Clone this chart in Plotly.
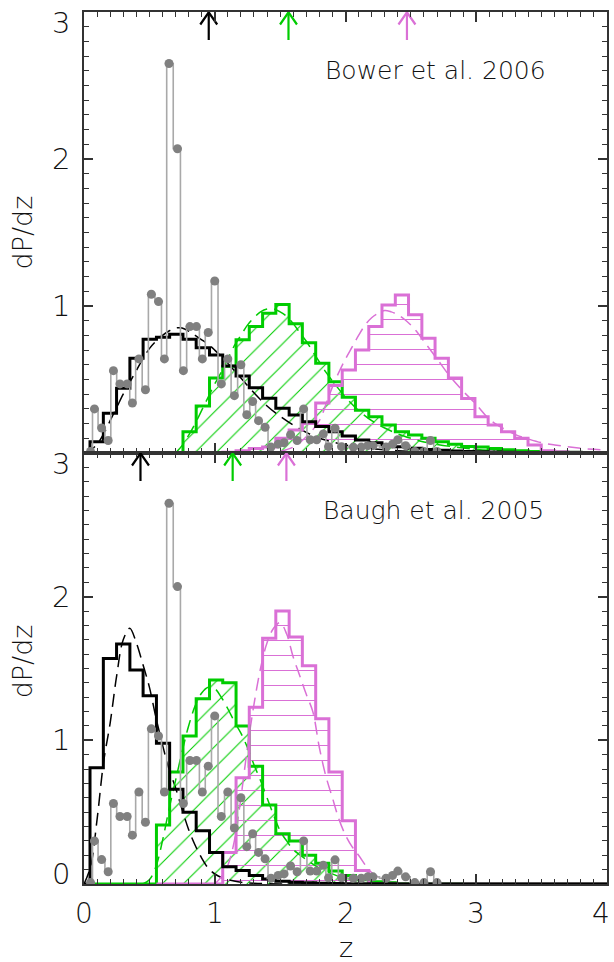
import plotly.graph_objects as go

# ---------------- data ----------------
bin_edges = [0.046, 0.148, 0.249, 0.351, 0.452, 0.554, 0.655, 0.757, 0.858, 0.960,
             1.061, 1.163, 1.264, 1.366, 1.467, 1.569, 1.670, 1.772, 1.873, 1.975,
             2.076, 2.178, 2.279, 2.381, 2.482, 2.584, 2.685, 2.787, 2.888, 2.990,
             3.091, 3.193, 3.294, 3.396, 3.497, 3.599, 3.700, 3.802, 3.903, 4.005]

# Bower et al. 2006 (top panel) histograms, one value per bin
bower_black = [0.077, 0.27, 0.44, 0.644, 0.773, 0.787, 0.807, 0.773, 0.716, 0.667,
               0.592, 0.524, 0.444, 0.372, 0.304, 0.259, 0.213, 0.18, 0.145, 0.116,
               0.088, 0.07, 0.054, 0.042, 0.032, 0.024, 0.018, 0.013, 0.01, 0.008,
               0.006, 0.005, 0.004, 0.003, 0.002, 0.002, 0.001, 0.001, 0.001]
bower_green = [0, 0, 0, 0, 0, 0, 0, 0.145, 0.32, 0.51,
               0.59, 0.77, 0.86, 0.95, 1.01, 0.88, 0.75, 0.61, 0.485, 0.38,
               0.29, 0.247, 0.19, 0.145, 0.122, 0.10, 0.077, 0.06, 0.045, 0.04,
               0.03, 0.022, 0.015, 0.01, 0.008, 0.006, 0.005, 0.004, 0.003]
bower_magenta = [0, 0, 0, 0, 0, 0, 0, 0, 0, 0,
                 0.005, 0.015, 0.03, 0.04, 0.10, 0.157, 0.20, 0.34, 0.46, 0.565,
                 0.70, 0.86, 1.007, 1.075, 0.94, 0.78, 0.644, 0.51, 0.37, 0.247,
                 0.19, 0.145, 0.10, 0.054, 0.015, 0.008, 0.005, 0.003, 0.002]

# Baugh et al. 2005 (bottom panel) histograms
baugh_black = [0.81, 1.57, 1.67, 1.49, 1.31, 0.98, 0.66, 0.50, 0.37, 0.22,
               0.12, 0.094, 0.06, 0.035, 0.02, 0.012, 0.008, 0.005, 0.003, 0.002,
               0.002, 0.001, 0.001, 0, 0, 0, 0, 0, 0, 0,
               0, 0, 0, 0, 0, 0, 0, 0, 0]
baugh_green = [0, 0, 0, 0, 0, 0.41, 0.78, 1.03, 1.29, 1.42,
               1.40, 1.10, 0.82, 0.55, 0.35, 0.30, 0.20, 0.145, 0.09, 0.06,
               0.03, 0.015, 0.008, 0.004, 0.002, 0.002, 0.001, 0.001, 0, 0,
               0, 0, 0, 0, 0, 0, 0, 0, 0]
baugh_magenta = [0, 0, 0, 0, 0, 0, 0, 0, 0, 0,
                 0.22, 0.74, 1.23, 1.71, 1.90, 1.72, 1.52, 1.15, 0.78, 0.44,
                 0.094, 0, 0, 0, 0, 0, 0, 0, 0, 0,
                 0, 0, 0, 0, 0, 0, 0, 0, 0]

# smooth (dashed) model curves
bower_black_dash_z = [0.0, 0.05, 0.1, 0.15, 0.2, 0.25, 0.3, 0.35, 0.4, 0.45, 0.5, 0.55, 0.6,
                      0.65, 0.7, 0.75, 0.8, 0.85, 0.9, 0.95, 1.0, 1.1, 1.2, 1.3, 1.4, 1.5,
                      1.6, 1.7, 1.8, 1.9, 2.0, 2.2, 2.4, 2.6, 2.8, 3.0, 3.5, 4.0]
bower_black_dash_p = [0.0, 0.02, 0.06, 0.13, 0.22, 0.31, 0.40, 0.48, 0.56, 0.64, 0.71, 0.76, 0.80,
                      0.83, 0.85, 0.85, 0.83, 0.80, 0.77, 0.74, 0.70, 0.61, 0.51, 0.41, 0.32, 0.25,
                      0.19, 0.14, 0.10, 0.075, 0.055, 0.03, 0.016, 0.008, 0.004, 0.002, 0.0, 0.0]
bower_green_dash_z = [0.7, 0.75, 0.8, 0.85, 0.9, 0.95, 1.0, 1.05, 1.1, 1.15, 1.2, 1.25, 1.3,
                      1.35, 1.4, 1.45, 1.5, 1.55, 1.6, 1.65, 1.7, 1.75, 1.8, 1.85, 1.9, 2.0,
                      2.1, 2.2, 2.3, 2.4, 2.5, 2.6, 2.8, 3.0, 3.2, 3.5, 4.0]
bower_green_dash_p = [0.0, 0.05, 0.12, 0.2, 0.29, 0.38, 0.47, 0.55, 0.64, 0.73, 0.80, 0.87, 0.92,
                      0.96, 0.98, 0.98, 0.96, 0.93, 0.88, 0.82, 0.76, 0.69, 0.62, 0.55, 0.49, 0.38,
                      0.29, 0.22, 0.17, 0.13, 0.10, 0.075, 0.045, 0.025, 0.015, 0.005, 0.0]
bower_magenta_dash_z = [1.5, 1.6, 1.7, 1.8, 1.85, 1.9, 1.95, 2.0, 2.05, 2.1, 2.15, 2.2, 2.25,
                        2.3, 2.35, 2.4, 2.45, 2.5, 2.55, 2.6, 2.7, 2.8, 2.9, 3.0, 3.1, 3.2,
                        3.3, 3.4, 3.5, 3.6, 3.7, 3.8, 3.9, 4.0]
bower_magenta_dash_p = [0.01, 0.04, 0.11, 0.22, 0.33, 0.45, 0.55, 0.64, 0.72, 0.80, 0.87, 0.92, 0.95,
                        0.97, 0.96, 0.94, 0.91, 0.87, 0.82, 0.76, 0.64, 0.52, 0.42, 0.33, 0.23, 0.17,
                        0.125, 0.095, 0.07, 0.055, 0.042, 0.032, 0.025, 0.02]

baugh_black_dash_z = [0.0, 0.05, 0.1, 0.15, 0.2, 0.25, 0.3, 0.35, 0.4, 0.45, 0.5, 0.55, 0.6,
                      0.65, 0.7, 0.75, 0.8, 0.85, 0.9, 0.95, 1.0, 1.05, 1.1, 1.2, 1.3, 1.5, 2.0, 4.0]
baugh_black_dash_p = [0.0, 0.12, 0.45, 0.85, 1.12, 1.45, 1.70, 1.78, 1.68, 1.53, 1.37, 1.16, 0.97,
                      0.80, 0.67, 0.52, 0.38, 0.27, 0.18, 0.11, 0.07, 0.045, 0.03, 0.012, 0.005, 0.0, 0.0, 0.0]
baugh_green_dash_z = [0.45, 0.5, 0.55, 0.6, 0.65, 0.7, 0.75, 0.8, 0.85, 0.9, 0.95, 1.0, 1.05,
                      1.1, 1.15, 1.2, 1.25, 1.3, 1.35, 1.4, 1.45, 1.5, 1.55, 1.6, 1.7, 1.8,
                      1.9, 2.0, 2.2, 2.4, 3.0]
baugh_green_dash_p = [0.0, 0.03, 0.12, 0.3, 0.52, 0.72, 0.92, 1.10, 1.24, 1.33, 1.37, 1.36, 1.30,
                      1.22, 1.13, 1.05, 0.95, 0.83, 0.72, 0.60, 0.48, 0.37, 0.30, 0.24, 0.17, 0.11,
                      0.07, 0.04, 0.015, 0.005, 0.0]
baugh_magenta_dash_z = [1.0, 1.05, 1.1, 1.15, 1.2, 1.25, 1.3, 1.35, 1.4, 1.45, 1.5, 1.55, 1.6,
                        1.65, 1.7, 1.75, 1.8, 1.85, 1.9, 1.95, 2.0, 2.05, 2.1, 2.2, 2.3, 2.4, 2.6]
baugh_magenta_dash_p = [0.0, 0.05, 0.13, 0.3, 0.6, 0.95, 1.25, 1.5, 1.68, 1.78, 1.82, 1.74, 1.58,
                        1.45, 1.32, 1.2, 0.95, 0.75, 0.6, 0.45, 0.34, 0.26, 0.2, 0.08, 0.03, 0.01, 0.0]

# observed distribution (grey points), same in both panels
obs_z = [0.05, 0.08, 0.135, 0.185, 0.225, 0.275, 0.33, 0.37, 0.42, 0.47,
         0.515, 0.57, 0.615, 0.65, 0.715, 0.76, 0.81, 0.86, 0.905, 0.95,
         1.0, 1.05, 1.10, 1.15, 1.20, 1.245, 1.29, 1.335, 1.385, 1.43,
         1.485, 1.53, 1.58, 1.63, 1.68, 1.73, 1.78, 1.83, 1.87, 1.92,
         1.97, 2.06, 2.12, 2.17, 2.21, 2.31, 2.36, 2.40, 2.46, 2.53,
         2.60, 2.65, 2.70]
obs_p = [0.01, 0.30, 0.17, 0.085, 0.56, 0.47, 0.47, 0.34, 0.64, 0.43,
         1.08, 1.03, 0.64, 2.65, 2.07, 0.56, 0.86, 0.86, 0.64, 0.82,
         1.17, 0.47, 0.64, 0.39, 0.60, 0.26, 0.35, 0.22, 0.175, 0.04,
         0.06, 0.07, 0.125, 0.085, 0.30, 0.09, 0.09, 0.13, 0.043, 0.168,
         0.043, 0.04, 0.04, 0.05, 0.05, 0.04, 0.06, 0.09, 0.05, 0.01,
         0.01, 0.085, 0.01]

# median-redshift arrows
bower_arrows_z = [0.954, 1.564, 2.47]
baugh_arrows_z = [0.432, 1.137, 1.548]

z_tick_vals = [0, 1, 2, 3, 4]
p_tick_top = [1, 2, 3]
p_tick_bottom = [0, 1, 2, 3]

# ---------------- style ----------------
BLACK = '#000000'
GREEN = '#00cc00'
MAG = '#da70d6'
GRAY_LINE = '#a9a9a9'
GRAY_PT = '#808080'
CLEAR = 'rgba(0,0,0,0)'
FONT = dict(family='DejaVu Sans, sans-serif', color='#111111', weight=200)


def step_xy(vals, start):
    xs, ys = [start], [0]
    for k, v in enumerate(vals):
        if bin_edges[k] >= start - 1e-9:
            xs.append(bin_edges[k])
            ys.append(v)
    xs.append(bin_edges[len(vals)])
    ys.append(vals[-1])
    return xs, ys


fig = go.Figure()

panels = [
    dict(xa='x', ya='y', black=bower_black, green=bower_green, mag=bower_magenta,
         starts=(0.0, 0.554, 1.061),
         bd=(bower_black_dash_z, bower_black_dash_p),
         gd=(bower_green_dash_z, bower_green_dash_p),
         md=(bower_magenta_dash_z, bower_magenta_dash_p),
         arrows=bower_arrows_z, ppu=147.0),
    dict(xa='x2', ya='y2', black=baugh_black, green=baugh_green, mag=baugh_magenta,
         starts=(0.0, 0.046, 0.554),
         bd=(baugh_black_dash_z, baugh_black_dash_p),
         gd=(baugh_green_dash_z, baugh_green_dash_p),
         md=(baugh_magenta_dash_z, baugh_magenta_dash_p),
         arrows=baugh_arrows_z, ppu=143.7),
]

for P in panels:
    ax = dict(xaxis=P['xa'], yaxis=P['ya'])
    gx, gy = step_xy(P['green'], P['starts'][1])
    mx, my = step_xy(P['mag'], P['starts'][2])
    bx, by = step_xy(P['black'], P['starts'][0])
    # hatched fills
    fig.add_trace(go.Scatter(x=gx, y=gy, mode='lines', line=dict(width=0, shape='hv'),
                             fill='tozeroy', fillcolor=CLEAR,
                             fillpattern=dict(shape='/', fgcolor=GREEN, bgcolor=CLEAR,
                                              fgopacity=1, size=15, solidity=0.07),
                             hoverinfo='skip', showlegend=False, **ax))
    fig.add_trace(go.Scatter(x=mx, y=my, mode='lines', line=dict(width=0, shape='hv'),
                             fill='tozeroy', fillcolor=CLEAR,
                             fillpattern=dict(shape='-', fgcolor=MAG, bgcolor=CLEAR,
                                              fgopacity=1, size=15, solidity=0.07),
                             hoverinfo='skip', showlegend=False, **ax))
    # dashed model curves
    for (dz, dp), col in ((P['bd'], BLACK), (P['gd'], GREEN), (P['md'], MAG)):
        fig.add_trace(go.Scatter(x=dz, y=dp, mode='lines',
                                 line=dict(color=col, width=1.5, dash='13px,7px', shape='spline'),
                                 showlegend=False, **ax))
    # histogram outlines
    for (xs, ys), col in (((gx, gy), GREEN), ((mx, my), MAG), ((bx, by), BLACK)):
        fig.add_trace(go.Scatter(x=xs, y=ys, mode='lines',
                                 line=dict(color=col, width=3, shape='hv'),
                                 showlegend=False, **ax))
    # observed points
    fig.add_trace(go.Scatter(x=obs_z, y=obs_p, mode='lines',
                             line=dict(color=GRAY_LINE, width=1.6, shape='hvh'),
                             showlegend=False, **ax))
    fig.add_trace(go.Scatter(x=obs_z, y=obs_p, mode='markers',
                             marker=dict(color=GRAY_PT, size=9, line=dict(width=0)),
                             showlegend=False, **ax))
    # arrows
    dx = 8.5 / 131.25
    L = 28.0 / P['ppu']
    h = 12.5 / P['ppu']
    for z, col in zip(P['arrows'], (BLACK, GREEN, MAG)):
        fig.add_trace(go.Scatter(x=[z, z, None, z - dx, z, z + dx],
                                 y=[3 - L, 2.998, None, 3 - h, 2.998, 3 - h],
                                 mode='lines', line=dict(color=col, width=2.2),
                                 showlegend=False, **ax))

SPLIT = 431.0 / 872.0
axis_common = dict(range=[0, 4], showgrid=False, zeroline=False, showline=True,
                   linecolor='#333333', linewidth=2, mirror='ticks', ticks='inside',
                   ticklen=10, tickwidth=1.5, tickcolor='#333333', dtick=1, tick0=0,
                   showticklabels=False,
                   minor=dict(dtick=0.1, tick0=0, ticks='inside', ticklen=5,
                              tickwidth=1.2, tickcolor='#333333', showgrid=False))
yaxis_common = dict(range=[0, 3], showgrid=False, zeroline=False, showline=True,
                    linecolor='#333333', linewidth=2, mirror='ticks', ticks='inside',
                    ticklen=9, tickwidth=1.5, tickcolor='#333333', dtick=1, tick0=0,
                    showticklabels=False,
                    minor=dict(dtick=0.1, tick0=0, ticks='inside', ticklen=5,
                               tickwidth=1.2, tickcolor='#333333', showgrid=False))

fig.update_layout(
    width=614, height=962,
    margin=dict(l=84, r=5, t=12, b=78),
    paper_bgcolor='white', plot_bgcolor='white',
    xaxis=dict(axis_common, anchor='y', domain=[0, 1]),
    yaxis=dict(yaxis_common, anchor='x', domain=[SPLIT, 1]),
    xaxis2=dict(axis_common, anchor='y2', domain=[0, 1], matches='x'),
    yaxis2=dict(yaxis_common, anchor='x2', domain=[0, SPLIT]),
    showlegend=False,
)

ann = []
# y tick labels
for v in p_tick_top:
    shift = -11 if v == 3 else 0
    ann.append(dict(x=0, xref='paper', y=v, yref='y', text=str(v), showarrow=False,
                    xanchor='right', yanchor='middle', xshift=-12, yshift=shift,
                    font=dict(FONT, size=29)))
for v in p_tick_bottom:
    shift = -11 if v == 3 else (10 if v == 0 else 0)
    ann.append(dict(x=0, xref='paper', y=v, yref='y2', text=str(v), showarrow=False,
                    xanchor='right', yanchor='middle', xshift=-12, yshift=shift,
                    font=dict(FONT, size=29)))
# x tick labels
for v in z_tick_vals:
    ann.append(dict(x=v, xref='x2', y=0, yref='paper', text=str(v), showarrow=False,
                    xanchor='center', yanchor='middle', yshift=-29,
                    xshift=(-6 if v == 4 else 0),
                    font=dict(FONT, size=28)))
# axis titles
ann.append(dict(x=0.5, xref='paper', y=0, yref='paper', text='z', showarrow=False,
                xanchor='center', yanchor='middle', yshift=-63, font=dict(FONT, size=27)))
for yref, yv in (('y', 1.5), ('y2', 1.55)):
    ann.append(dict(x=0, xref='paper', y=yv, yref=yref, text='dP/dz', showarrow=False,
                    textangle=-90, xanchor='center', yanchor='middle', xshift=-62,
                    font=dict(FONT, size=27)))
# panel labels
ann.append(dict(x=2.69, xref='x', y=2.605, yref='y', text='Bower et al. 2006', showarrow=False,
                xanchor='center', yanchor='middle', font=dict(FONT, size=25)))
ann.append(dict(x=2.675, xref='x2', y=2.6, yref='y2', text='Baugh et al. 2005', showarrow=False,
                xanchor='center', yanchor='middle', font=dict(FONT, size=25)))
fig.update_layout(annotations=ann)

fig.write_html('out.html')
